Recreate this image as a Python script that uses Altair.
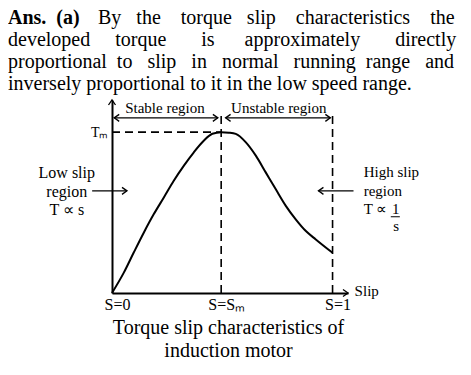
import altair as alt
import pandas as pd

FONT = "Liberation Serif"
NB = "\u00a0"
ZW = "\u200b"

# ---- torque-slip curve (slip s, torque T with T/Tm) ----
slip = [0.0, 0.053, 0.098, 0.144, 0.189, 0.235, 0.28, 0.326, 0.371, 0.417, 0.455, 0.495,
        0.53, 0.561, 0.606, 0.652, 0.697, 0.742, 0.788, 0.833, 0.879, 0.924, 1.0]
torque = [0.0, 0.125, 0.25, 0.375, 0.489, 0.594, 0.698, 0.792, 0.875, 0.948, 0.99, 1.0,
          0.997, 0.989, 0.938, 0.854, 0.75, 0.646, 0.542, 0.458, 0.385, 0.333, 0.25]

S_M = 0.495
T_M = 1.0
X_END = 1.07
Y_END = 1.2
GUIDE_TOP = 1.127

tick_values = [0, S_M, 1]
tick_labels = ["S=0", "S=S\u2098", "S=1"]
y_tick_values = [T_M]
y_tick_labels = ["T\u2098"]

header_bold = "Ans." + NB * 2 + "(a)"
header_lines = [
    ZW + NB * 18 + "By" + NB * 3 + "the" + NB * 4 + "torque" + NB * 3 + "slip" + NB * 4
    + "characteristics" + NB * 4 + "the",
    "developed" + NB * 5 + "torque" + NB * 7 + "is" + NB * 6 + "approximately" + NB * 7 + "directly",
    "proportional" + NB * 2 + "to" + NB * 3 + "slip" + NB * 3 + "in" + NB * 3 + "normal" + NB * 3
    + "running" + NB * 2 + "range" + NB * 3 + "and",
    "inversely proportional to it in the low speed range.",
]
caption = ["Torque slip characteristics of", "induction motor"]

# dashed guides: vertical at Sm and S=1, horizontal at Tm
guide_x = [S_M, 1.0, 0.0]
guide_x2 = [S_M, 1.0, S_M]
guide_y = [0.0, 0.0, T_M]
guide_y2 = [GUIDE_TOP, GUIDE_TOP, T_M]

# solid arrow shafts
arrow_x = [0.01, 0.515, -0.09, 0.936]
arrow_x2 = [0.48, 0.99, 0.068, 1.095]
arrow_y = [1.089, 1.089, 0.635, 0.635]

# arrow heads (position + direction in degrees)
head_x = [0.01, 0.48, 0.515, 0.99, 0.068, 0.936, X_END, 0.0]
head_y = [1.089, 1.089, 1.089, 1.089, 0.635, 0.635, 0.0, Y_END]
head_angle = [180, 0, 180, 0, 0, 180, 0, 270]

region_text = ["Stable region", "Unstable region"]
region_x = [0.24, 0.756]
region_y = [1.152, 1.152]

low_text = ["Low slip\nregion\nT \u221d s"]
low_x = [-0.205]
low_y = [0.745]

high_text = ["High slip\nregion\nT \u221d"]
high_x = [1.141]
high_y = [0.75]

slip_text = ["Slip"]
slip_x = [1.1]
slip_y = [0.014]

frac_text = ["1", "s"]
frac_x = [1.286, 1.288]
frac_y = [0.489, 0.383]
frac_bar_x = [1.264]
frac_bar_x2 = [1.305]
frac_bar_y = [0.474]

xs = alt.Scale(domain=[0, X_END], nice=False, zero=False)
ys = alt.Scale(domain=[0, Y_END], nice=False, zero=False)

label_expr = " : ".join(
    [f"datum.value == {v} ? '{t}'" for v, t in zip(tick_values[:-1], tick_labels[:-1])]
    + [f"'{tick_labels[-1]}'"]
)

curve = alt.Chart(pd.DataFrame({"x": slip, "y": torque})).mark_line(
    color="black", strokeWidth=2, interpolate="monotone")

guides = alt.Chart(pd.DataFrame({"x": guide_x, "x2": guide_x2, "y": guide_y, "y2": guide_y2})).mark_rule(
    color="black", strokeWidth=1.6, strokeDash=[8, 5]).encode(x2="x2:Q", y2="y2:Q")

arrows = alt.Chart(pd.DataFrame({"x": arrow_x, "x2": arrow_x2, "y": arrow_y})).mark_rule(
    color="black", strokeWidth=1.3).encode(x2="x2:Q")

heads = alt.Chart(pd.DataFrame({"x": head_x, "y": head_y, "angle": head_angle})).mark_point(
    shape="M-1,-0.7L0,0L-1,0.7", filled=False, stroke="black", strokeWidth=1.3,
    size=100, opacity=1,
).encode(angle=alt.Angle("angle:Q", scale=None))


def text_layer(texts, x, y, align, size, baseline="middle", lh=18.5):
    df = pd.DataFrame({"x": x, "y": y, "t": texts})
    return alt.Chart(df).mark_text(
        align=align, baseline=baseline, font=FONT, fontSize=size, color="black",
        lineBreak="\n", lineHeight=lh,
    ).encode(text="t:N")


regions = text_layer(region_text, region_x, region_y, "center", 15)
low = text_layer(low_text, low_x, low_y, "center", 16)
high = text_layer(high_text, high_x, high_y, "left", 15)
slip_lbl = text_layer(slip_text, slip_x, slip_y, "left", 15)
frac = text_layer(frac_text, frac_x, frac_y, "center", 15, baseline="alphabetic")

frac_bar = alt.Chart(pd.DataFrame({"x": frac_bar_x, "x2": frac_bar_x2, "y": frac_bar_y})).mark_rule(
    color="black", strokeWidth=1).encode(x2="x2:Q")

chart = alt.layer(
    curve, guides, arrows, heads, regions, low, high, slip_lbl, frac, frac_bar
).encode(
    x=alt.X("x:Q", scale=xs, axis=alt.Axis(
        values=tick_values, labelExpr=label_expr, title=caption,
        titleFont=FONT, titleFontSize=20, titleFontWeight="normal", titleColor="black",
        titleX=116, titleY=40, titleBaseline="alphabetic", titleLineHeight=23,
        labelFont=FONT, labelFontSize=16, labelColor="black", labelPadding=3, labelOffset=5,
        labelFlush=False, labelOverlap=False, ticks=False, grid=False,
        domainColor="black", domainWidth=2)),
    y=alt.Y("y:Q", scale=ys, axis=alt.Axis(
        values=y_tick_values, labelExpr=f"'{y_tick_labels[0]}'", title=None,
        labelFont=FONT, labelFontSize=14, labelColor="black", labelPadding=4,
        ticks=False, grid=False, domainColor="black", domainWidth=2)),
).properties(
    width=236,
    height=193,
    autosize=alt.AutoSizeParams(type="none"),
    padding={"left": 104, "top": 92, "right": 115, "bottom": 74},
    background="white",
    title=alt.TitleParams(
        text=header_bold,
        subtitle=header_lines,
        anchor="start",
        frame="group",
        dx=-104,
        offset=3.5,
        font=FONT,
        fontSize=20,
        fontWeight="bold",
        color="black",
        subtitleFont=FONT,
        subtitleFontSize=20,
        subtitleFontWeight="normal",
        subtitleColor="black",
        subtitleLineHeight=22,
        subtitlePadding=-20,
    ),
).configure_view(stroke=None)

chart.save("out.html", embed_options={"renderer": "svg", "actions": False})
